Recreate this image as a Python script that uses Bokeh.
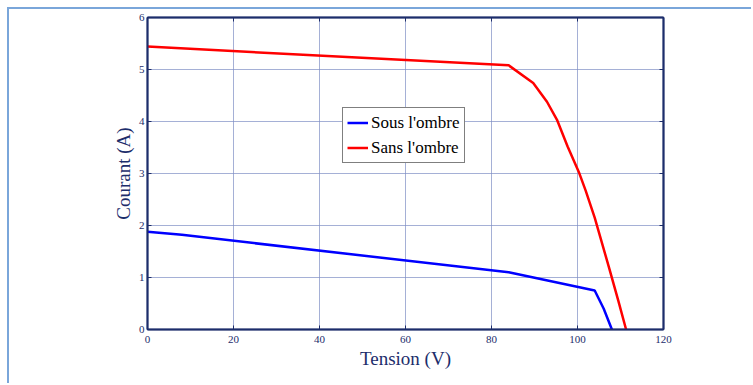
from bokeh.plotting import figure
from bokeh.models import LinearAxis, Range1d, FixedTicker, Legend, LegendItem
from bokeh.embed import file_html
from bokeh.resources import INLINE

# data
v_sous = [0, 8, 84, 104, 106.1, 108]
i_sous = [1.88, 1.82, 1.1, 0.75, 0.40, 0.0]
v_sans = [0, 84, 89.7, 92.9, 95.3, 97.7, 100.3, 101.9, 104, 107.3, 109.5, 111.3]
i_sans = [5.44, 5.08, 4.74, 4.38, 4.02, 3.52, 3.03, 2.67, 2.15, 1.2, 0.55, 0.0]
x_ticks = [0, 20, 40, 60, 80, 100, 120]
y_ticks = [0, 1, 2, 3, 4, 5, 6]
labels = ["Sous l'ombre", "Sans l'ombre"]

NAVY = "#1c2d6b"
GRID = "#7f8fc4"
FONT = "Liberation Serif"

p = figure(width=744, height=376, output_backend="svg", toolbar_location=None,
           x_range=Range1d(0, 120), y_range=Range1d(0, 6),
           min_border_left=138, min_border_right=90, min_border_top=8, min_border_bottom=56)
p.margin = (7, 0, 0, 7)
p.styles = {"border-left": "2px solid #7aa6da", "border-top": "2px solid #7aa6da"}
p.outline_line_color = NAVY
p.outline_line_width = 1.5
p.background_fill_color = "white"
p.border_fill_color = "white"

r1 = p.line(v_sous, i_sous, line_color="#0000ff", line_width=2.5)
r2 = p.line(v_sans, i_sans, line_color="#ff0000", line_width=2.5)

for ax in [p.xaxis[0], p.yaxis[0]]:
    ax.axis_line_color = NAVY
    ax.axis_line_width = 2
    ax.major_tick_line_color = NAVY
    ax.major_tick_in = 4
    ax.major_tick_out = 0
    ax.minor_tick_line_color = None
    ax.major_label_text_font = FONT
    ax.major_label_text_font_size = "11px"
    ax.major_label_text_color = NAVY
    ax.axis_label_text_font = FONT
    ax.axis_label_text_font_size = "19px"
    ax.axis_label_text_font_style = "normal"
    ax.axis_label_text_color = NAVY

p.xaxis[0].ticker = FixedTicker(ticks=x_ticks)
p.yaxis[0].ticker = FixedTicker(ticks=y_ticks)
p.xaxis[0].axis_label = "Tension (V)"
p.yaxis[0].axis_label = "Courant (A)"
p.xaxis[0].major_label_standoff = 6
p.xaxis[0].axis_label_standoff = 2
p.yaxis[0].major_label_standoff = 3
p.yaxis[0].axis_label_standoff = 2

top_ax = LinearAxis(ticker=FixedTicker(ticks=x_ticks),
                    major_label_overrides={t: "" for t in x_ticks},
                    axis_line_color=NAVY, axis_line_width=2, major_tick_line_color=NAVY,
                    major_tick_in=4, major_tick_out=0, minor_tick_line_color=None)
right_ax = LinearAxis(ticker=FixedTicker(ticks=y_ticks),
                      major_label_overrides={t: "" for t in y_ticks},
                      axis_line_color=NAVY, axis_line_width=2, major_tick_line_color=NAVY,
                      major_tick_in=4, major_tick_out=0, minor_tick_line_color=None)
p.add_layout(top_ax, "above")
p.add_layout(right_ax, "right")

p.grid.grid_line_color = GRID
p.grid.grid_line_alpha = 0.7
p.grid.grid_line_width = 1
p.xgrid.ticker = FixedTicker(ticks=x_ticks)
p.ygrid.ticker = FixedTicker(ticks=y_ticks)

legend = Legend(items=[LegendItem(label=labels[0], renderers=[r1]),
                       LegendItem(label=labels[1], renderers=[r2])],
                location=(195, 166))
legend.label_text_font = FONT
legend.label_text_font_style = "normal"
legend.label_text_font_size = "17px"
legend.label_text_color = "black"
legend.border_line_color = "black"
legend.border_line_width = 1.5
legend.background_fill_color = "white"
legend.background_fill_alpha = 1
legend.glyph_width = 21
legend.label_standoff = 3
legend.padding = 4
legend.spacing = 4
legend.label_height = 21
legend.glyph_height = 21
legend.margin = 0
p.add_layout(legend, "center")

open("out.html", "w").write(file_html(p, INLINE))
